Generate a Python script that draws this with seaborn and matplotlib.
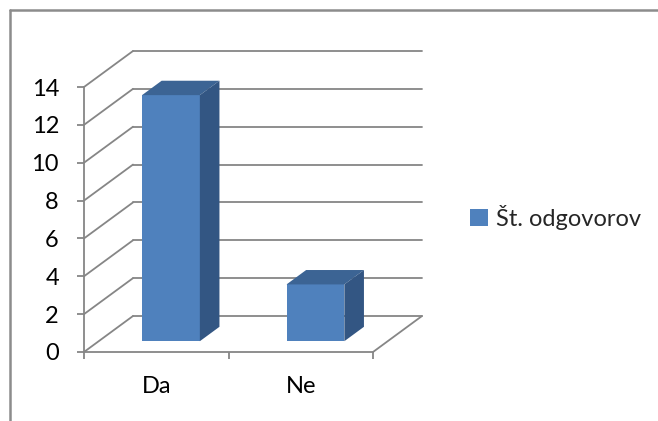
import matplotlib
matplotlib.use("Agg")
import matplotlib.pyplot as plt
import matplotlib.transforms as mtransforms
from matplotlib.patches import Polygon, Patch
from matplotlib.lines import Line2D
import seaborn as sns
import pandas as pd

# ---- data ----
categories = ["Da", "Ne"]
values = [13, 3]
series_name = "Št. odgovorov"
y_ticks = [0, 2, 4, 6, 8, 10, 12, 14]

# ---- style ----
sns.set_theme(style="white")
plt.rcParams['font.family'] = ['Lato', 'DejaVu Sans']
FS = 17
GRID = "#868686"
FRONT = "#4F81BD"
TOP = "#3C6494"
SIDE = "#335683"

W, H = 658, 421
fig = plt.figure(figsize=(W / 100, H / 100), dpi=100)

# axes geometry (front plane of the pseudo-3D chart)
left_px, right_px, top_px, bottom_px = 84, 423, 49, 352
ax = fig.add_axes([left_px / W, 1 - bottom_px / H,
                   (right_px - left_px) / W, (bottom_px - top_px) / H])
cat_px = (373 - 84) / 2.0
unit_px = (352 - 87) / 14.0
Dx = 49 / cat_px     # depth vector in data units
Dy = 36 / unit_px

x_lo, x_hi = -0.5, len(categories) - 0.5

# ---- bars ----
df = pd.DataFrame({"Odgovor": categories, "Število": values})
sns.barplot(data=df, x="Odgovor", y="Število", color=FRONT, saturation=1,
            width=0.4, ax=ax, zorder=3, edgecolor="none", linewidth=0)

ax.set_xlim(-0.5, -0.5 + (right_px - left_px) / cat_px)
ax.set_ylim(0, (bottom_px - top_px) / unit_px)

# ---- walls / gridlines ----
for v in y_ticks:
    ax.plot([x_lo, x_lo + Dx], [v, v + Dy], color=GRID, lw=1.3, zorder=1, clip_on=False)
    ax.plot([x_lo + Dx, x_hi + Dx], [v + Dy, v + Dy], color=GRID, lw=1.3, zorder=1, clip_on=False)
ax.plot([x_hi, x_hi + Dx], [0, Dy], color=GRID, lw=1.3, zorder=1, clip_on=False)

f0, d = 0.3, 0.4   # bar starts at 30% depth, 40% deep
shift = mtransforms.Affine2D().translate(f0 * Dx, f0 * Dy) + ax.transData
for p in list(ax.patches):
    p.set_transform(shift)
    x0 = p.get_x()
    x1 = x0 + p.get_width()
    h = p.get_height()
    top = Polygon([(x0, h), (x1, h), (x1 + d * Dx, h + d * Dy), (x0 + d * Dx, h + d * Dy)],
                  closed=True, facecolor=TOP, edgecolor="none", transform=shift, zorder=3)
    side = Polygon([(x1, 0), (x1, h), (x1 + d * Dx, h + d * Dy), (x1 + d * Dx, d * Dy)],
                   closed=True, facecolor=SIDE, edgecolor="none", transform=shift, zorder=3)
    ax.add_patch(top)
    ax.add_patch(side)

# ---- axes / ticks ----
ax.set_xlabel("")
ax.set_ylabel("")
for s in ["top", "right"]:
    ax.spines[s].set_visible(False)
ax.spines["left"].set_bounds(0, y_ticks[-1])
ax.spines["bottom"].set_bounds(x_lo, x_hi)
for s in ["left", "bottom"]:
    ax.spines[s].set_color(GRID)
    ax.spines[s].set_linewidth(1.3)
    ax.spines[s].set_zorder(2)

ax.set_yticks(y_ticks)
ax.set_yticklabels([str(t) for t in y_ticks])
ax.tick_params(axis="y", left=True, direction="out", length=5, width=1.3,
               color=GRID, pad=13, labelsize=FS, labelcolor="black")

ax.set_xticks([x_lo + i for i in range(len(categories) + 1)])
ax.set_xticklabels([])
ax.set_xticks(range(len(categories)), minor=True)
ax.set_xticklabels(categories, minor=True)
ax.tick_params(axis="x", which="major", bottom=True, direction="out", length=5,
               width=1.3, color=GRID)
ax.tick_params(axis="x", which="minor", bottom=True, length=0, pad=17,
               labelsize=FS, labelcolor="black")
ax.set_facecolor("none")

# ---- legend ----
handle = Patch(facecolor=FRONT, edgecolor="none")
fig.legend([handle], [series_name], loc="center left",
           bbox_to_anchor=(470 / W, 1 - 217 / H), frameon=False, fontsize=FS,
           handlelength=0.75, handleheight=0.75, handletextpad=0.35,
           borderaxespad=0, borderpad=0)

# ---- chart border (partially visible) ----
bc = "#8C8C8C"
fig.add_artist(Line2D([9.5 / W, 1.0], [1 - 9.5 / H, 1 - 9.5 / H], color=bc, lw=1.8,
                      transform=fig.transFigure))
fig.add_artist(Line2D([9.5 / W, 9.5 / W], [1 - 9.5 / H, 0.0], color=bc, lw=1.8,
                      transform=fig.transFigure))

fig.savefig("out.png", dpi=100, facecolor="white")
